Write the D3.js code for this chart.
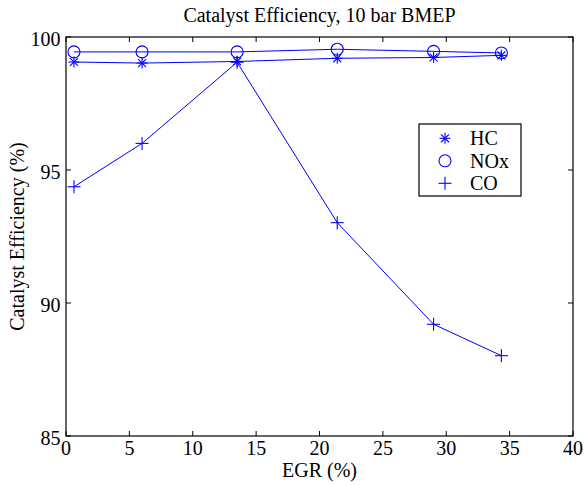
<!DOCTYPE html>
<html>
<head>
<meta charset="UTF-8">
<title>Catalyst Efficiency</title>
<style>
  body { margin: 0; background: #fff; }
</style>
</head>
<body>
<script src="https://d3js.org/d3.v7.min.js"></script>
<script>
  // EGR values (%) per operating point
  const egr = [0.63, 6.0, 13.5, 21.4, 29.0, 34.35];
  const hc = [99.06, 99.02, 99.08, 99.2, 99.23, 99.31];
  const nox = [99.44, 99.44, 99.44, 99.54, 99.46, 99.4];
  const co = [94.37, 96.0, 99.05, 93.02, 89.2, 88.02];
  const xTicks = [0, 5, 10, 15, 20, 25, 30, 35, 40];
  const yTicks = [85, 90, 95, 100];

  const width = 584, height = 485;
  const m = {left: 66, right: 11, top: 37, bottom: 49};
  const serif = "'Liberation Serif', 'Times New Roman', Times, serif";

  const svg = d3.select("body").append("svg").attr("width", width).attr("height", height)
    .attr("font-family", serif);

  const x = d3.scaleLinear().domain([0, 40]).range([m.left, width - m.right]);
  const y = d3.scaleLinear().domain([85, 100]).range([height - m.bottom, m.top]);

  const blue = "#0000ff";

  // ticks (inward, all four sides)
  const tl = 5;
  const tickG = svg.append("g").attr("stroke", "#000").attr("stroke-width", 1);
  xTicks.forEach(t => {
    tickG.append("line").attr("x1", x(t)).attr("x2", x(t)).attr("y1", y(85)).attr("y2", y(85) - tl);
    tickG.append("line").attr("x1", x(t)).attr("x2", x(t)).attr("y1", y(100)).attr("y2", y(100) + tl);
  });
  yTicks.forEach(t => {
    tickG.append("line").attr("x1", x(0)).attr("x2", x(0) + tl).attr("y1", y(t)).attr("y2", y(t));
    tickG.append("line").attr("x1", x(40)).attr("x2", x(40) - tl).attr("y1", y(t)).attr("y2", y(t));
  });

  svg.append("rect")
    .attr("x", x(0)).attr("y", y(100))
    .attr("width", x(40) - x(0)).attr("height", y(85) - y(100))
    .attr("fill", "none").attr("stroke", "#000").attr("stroke-width", 1.2);

  svg.append("g").selectAll("text").data(xTicks).join("text")
    .attr("x", d => x(d)).attr("y", y(85) + 19)
    .attr("text-anchor", "middle").attr("font-size", 20).text(d => d);

  svg.append("g").selectAll("text").data(yTicks).join("text")
    .attr("x", x(0) - 5.5).attr("y", d => y(d) + 8.5)
    .attr("text-anchor", "end").attr("font-size", 20).text(d => d);

  svg.append("text").attr("x", (x(0) + x(40)) / 2).attr("y", 22)
    .attr("text-anchor", "middle").attr("font-size", 20).text("Catalyst Efficiency, 10 bar BMEP");

  svg.append("text").attr("x", (x(0) + x(40)) / 2).attr("y", 477)
    .attr("text-anchor", "middle").attr("font-size", 20).text("EGR (%)");

  svg.append("text")
    .attr("transform", `translate(24,${(y(85) + y(100)) / 2}) rotate(-90)`)
    .attr("text-anchor", "middle").attr("font-size", 20).text("Catalyst Efficiency (%)");

  const line = d3.line().x(d => x(d[0])).y(d => y(d[1]));

  function star(g, cx, cy, r) {
    const p = g.append("g").attr("stroke", blue).attr("stroke-width", 1.1);
    p.append("line").attr("x1", cx - r).attr("x2", cx + r).attr("y1", cy).attr("y2", cy);
    p.append("line").attr("x1", cx).attr("x2", cx).attr("y1", cy - r).attr("y2", cy + r);
    const d = r * 0.72;
    p.append("line").attr("x1", cx - d).attr("x2", cx + d).attr("y1", cy - d).attr("y2", cy + d);
    p.append("line").attr("x1", cx - d).attr("x2", cx + d).attr("y1", cy + d).attr("y2", cy - d);
  }
  function plus(g, cx, cy, r) {
    const p = g.append("g").attr("stroke", blue).attr("stroke-width", 1.1);
    p.append("line").attr("x1", cx - r).attr("x2", cx + r).attr("y1", cy).attr("y2", cy);
    p.append("line").attr("x1", cx).attr("x2", cx).attr("y1", cy - r).attr("y2", cy + r);
  }
  function circ(g, cx, cy, r) {
    g.append("circle").attr("cx", cx).attr("cy", cy).attr("r", r)
      .attr("fill", "none").attr("stroke", blue).attr("stroke-width", 1.1);
  }

  const series = [
    {name: "HC", vals: hc, mark: star, r: 5.5},
    {name: "NOx", vals: nox, mark: circ, r: 6},
    {name: "CO", vals: co, mark: plus, r: 6.5}
  ];

  const plot = svg.append("g");
  series.forEach(s => {
    const pts = egr.map((e, i) => [e, s.vals[i]]);
    plot.append("path").attr("d", line(pts)).attr("fill", "none")
      .attr("stroke", blue).attr("stroke-width", 1);
    pts.forEach(p => s.mark(plot, x(p[0]), y(p[1]), s.r));
  });

  // legend
  const lg = svg.append("g").attr("transform", "translate(419,124)");
  lg.append("rect").attr("width", 102).attr("height", 72)
    .attr("fill", "#fff").attr("stroke", "#000").attr("stroke-width", 1.2);
  series.forEach((s, i) => {
    const cy = 14.3 + i * 22.5;
    s.mark(lg, 26, cy, s.r);
    lg.append("text").attr("x", 51).attr("y", cy + 7).attr("font-size", 20).text(s.name);
  });
</script>
</body>
</html>
